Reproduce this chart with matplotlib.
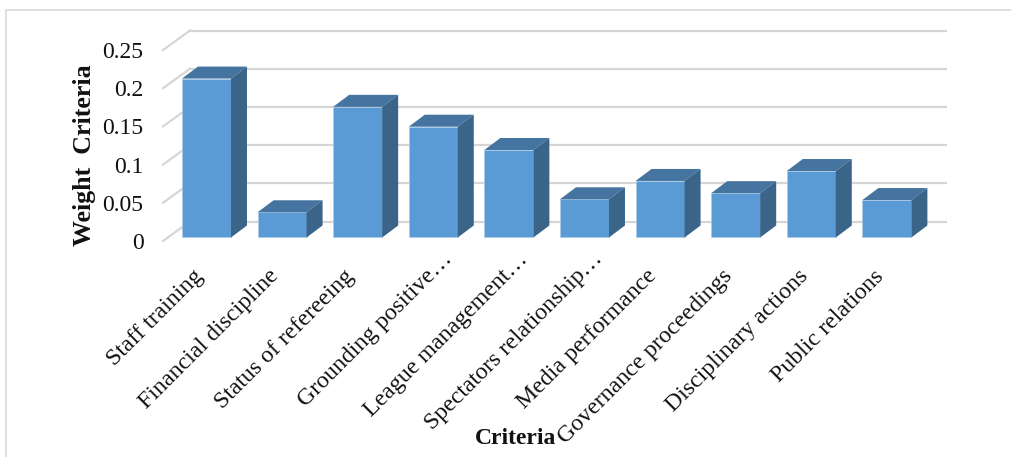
import matplotlib
matplotlib.use('Agg')
import matplotlib.pyplot as plt
from matplotlib.lines import Line2D
from matplotlib.patches import Polygon
from matplotlib.transforms import ScaledTranslation

categories = ['Staff training', 'Financial discipline', 'Status of refereeing',
              'Grounding positive…', 'League management…', 'Spectators relationship…',
              'Media performance', 'Governance proceedings', 'Disciplinary actions',
              'Public relations']
weights = [0.208, 0.033, 0.171, 0.145, 0.1145, 0.05, 0.074, 0.058, 0.087, 0.049]
y_ticks = [0, 0.05, 0.1, 0.15, 0.2, 0.25]
y_labels = ['0', '0.05', '0.1', '0.15', '0.2', '0.25']

W, H = 1012, 457
plt.rcParams['font.family'] = ['Liberation Serif']

fig = plt.figure(figsize=(W / 100, H / 100), dpi=100)
# axes box is the front of the fake 3d floor/wall, in pixels
ax = fig.add_axes([163 / W, 1 - 241 / H, (929 - 163) / W, 191 / H])
ax.set_xlim(-0.575, 9.557)
ax.set_ylim(0, 0.25)

# 3d look: depth of the wall and of the bars in data units
wall_dx, wall_dy = 27 / 75.6, 19.5 / 764
bar_dx, bar_dy = 16 / 75.6, 12 / 764
base = 0.0046
bar_w = 0.648

front = '#5B9BD5'
top = '#44749F'
side = '#3A6488'
grid = '#D6D6D6'

x0, x1 = ax.get_xlim()
for t in y_ticks:
    ax.plot([x0, x0 + wall_dx], [t, t + wall_dy], color=grid, lw=1.6, clip_on=False, zorder=1)
    ax.plot([x0 + wall_dx, x1 + wall_dx - 27 / 75.6 + 17 / 75.6], [t + wall_dy, t + wall_dy],
            color=grid, lw=1.6, clip_on=False, zorder=1)

ax.bar(range(len(weights)), weights, width=bar_w, bottom=base, color=front,
       edgecolor='#A9CBE8', linewidth=0.5, zorder=3)
for i, v in enumerate(weights):
    l, r = i - bar_w / 2, i + bar_w / 2
    h = base + v
    ax.add_patch(Polygon([(l, h), (r, h), (r + bar_dx, h + bar_dy), (l + bar_dx, h + bar_dy)],
                         closed=True, fc=top, ec='none', clip_on=False, zorder=3))
    ax.add_patch(Polygon([(r, base), (r + bar_dx, base + bar_dy), (r + bar_dx, h + bar_dy), (r, h)],
                         closed=True, fc=side, ec='none', clip_on=False, zorder=3))

for s in ax.spines.values():
    s.set_visible(False)
ax.patch.set_alpha(0)

ax.set_yticks(y_ticks)
ax.set_yticklabels(y_labels, fontsize=17, color='#111111')
ax.tick_params(axis='y', length=0, pad=14)
ax.set_xticks(range(len(categories)))
ax.set_xticklabels(categories, rotation=45, ha='right', va='top', rotation_mode='anchor',
                   fontsize=17.2, color='#111111')
ax.tick_params(axis='x', length=0, pad=20)
# labels sit a bit left of the bar centres, the cut ones reach further up the slope
for lab, name in zip(ax.get_xticklabels(), categories):
    dx, dy = (8, 20) if name.endswith('…') else (-14, 3)
    shift = ScaledTranslation(dx / 100, dy / 100, fig.dpi_scale_trans)
    lab.set_transform(lab.get_transform() + shift)

fig.text(85 / W, 1 - 155 / H, 'Weight  Criteria', rotation=90, ha='center', va='center',
         fontsize=18.6, fontweight='bold', color='#111111')
fig.text(516 / W, 1 - 438 / H, 'Criteria', ha='center', va='center',
         fontsize=17, fontweight='bold', color='#111111')

# outer frame of the chart object, only top and left show
fig.add_artist(Line2D([6 / W, 6 / W, 1], [0, 1 - 10 / H, 1 - 10 / H], color='#D9D9D9', lw=1.2))

fig.savefig('out.png', dpi=100)
